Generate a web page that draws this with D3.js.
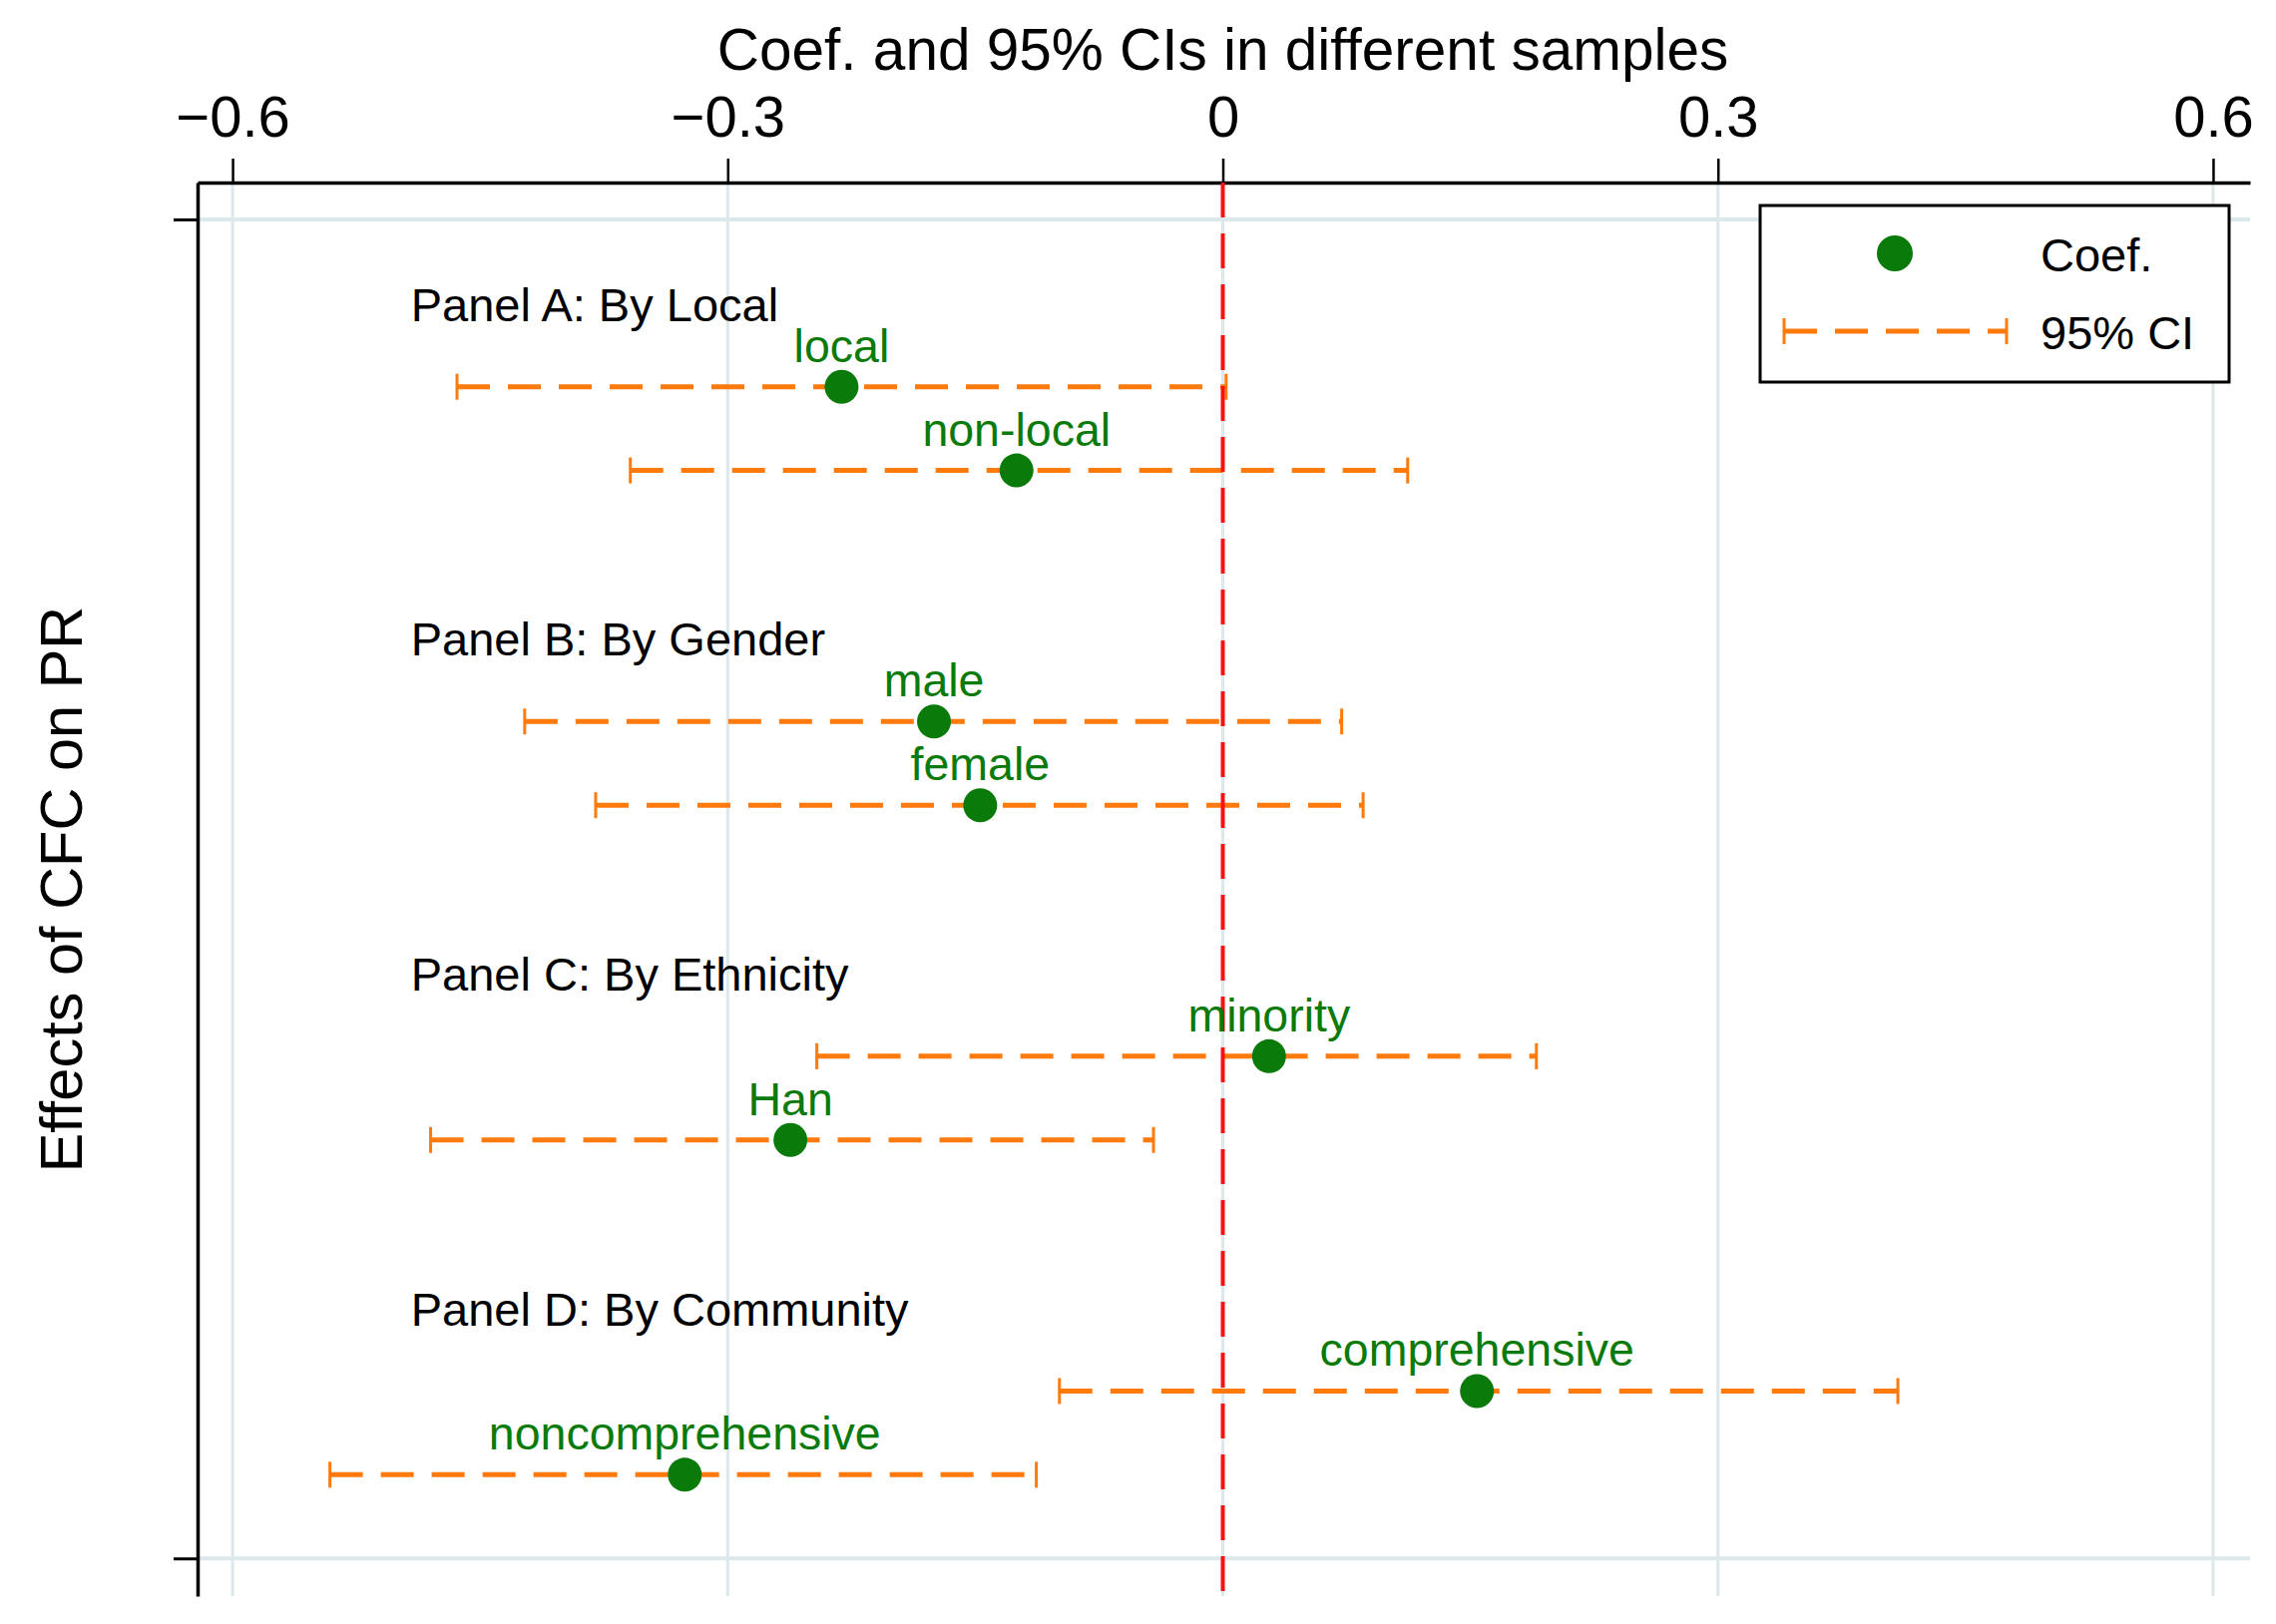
<html>
<head>
  <meta charset="utf-8">
  <title>Coef. and 95% CIs in different samples</title>
  <style>
    body { margin: 0; background: #fff; }
    text { font-family: "Liberation Sans", Arial, sans-serif; }
  </style>
  <script src="https://d3js.org/d3.v7.min.js"></script>
</head>
<body>
  <svg id="chart" width="2281" height="1628" viewBox="0 0 2281 1628"></svg>
  <script>
    // values
    var panels = ["Panel A: By Local", "Panel B: By Gender", "Panel C: By Ethnicity", "Panel D: By Community"];
    var samples = ["local", "non-local", "male", "female", "minority", "Han", "comprehensive", "noncomprehensive"];
    var coef = [-0.231, -0.125, -0.175, -0.147, 0.028, -0.262, 0.154, -0.326];
    var ciLow = [-0.464, -0.359, -0.423, -0.380, -0.246, -0.480, -0.099, -0.541];
    var ciHigh = [0.002, 0.112, 0.072, 0.085, 0.190, -0.042, 0.409, -0.113];
    var xTicks = [-0.6, -0.3, 0, 0.3, 0.6];
    var yTicks = [-1, 15];
    var legendLabels = ["Coef.", "95% CI"];

    var green = "#0a7a0a", orange = "#ff7a0c", grid = "#dbe8ec";

    // each panel: header row + two sample rows + a blank row
    var rows = samples.map(function (s, i) {
      return { name: s, coef: coef[i], lo: ciLow[i], hi: ciHigh[i], row: Math.floor(i / 2) * 4 + (i % 2) + 1 };
    });

    var svg = d3.select("#chart");

    var x = d3.scaleLinear().domain([-0.6212, 0.6224]).range([198, 2255]);
    var y = d3.scaleLinear().domain([-1.44, 15.45]).range([183, 1600]);

    // grid
    svg.append("g").selectAll("line")
      .data(xTicks).enter().append("line")
      .attr("x1", d => x(d)).attr("x2", d => x(d))
      .attr("y1", y.range()[0]).attr("y2", y.range()[1])
      .attr("stroke", grid).attr("stroke-width", 3);

    svg.append("g").selectAll("line")
      .data(yTicks).enter().append("line")
      .attr("x1", x.range()[0]).attr("x2", x.range()[1])
      .attr("y1", d => y(d)).attr("y2", d => y(d))
      .attr("stroke", grid).attr("stroke-width", 4);

    // axes
    var xAxis = svg.append("g")
      .attr("transform", "translate(0," + y.range()[0] + ")")
      .call(d3.axisTop(x).tickValues(xTicks).tickSize(24).tickSizeOuter(0).tickPadding(22)
        .tickFormat(d => d === 0 ? "0" : d3.format(".1f")(d)));
    xAxis.select(".domain").attr("stroke-width", 3.5);
    xAxis.selectAll(".tick line").attr("stroke-width", 2.5);
    xAxis.selectAll(".tick text").attr("font-size", 58).attr("fill", "#000")
      .style("font-family", "'Liberation Sans', Arial, sans-serif");

    var yAxis = svg.append("g")
      .attr("transform", "translate(" + x.range()[0] + ",0)")
      .call(d3.axisLeft(y).tickValues(yTicks).tickSize(24).tickSizeOuter(0).tickFormat(""));
    yAxis.select(".domain").attr("stroke-width", 3.5);
    yAxis.selectAll(".tick line").attr("stroke-width", 3);

    // titles
    svg.append("text")
      .attr("x", x(0)).attr("y", 70)
      .attr("text-anchor", "middle").attr("font-size", 58.5)
      .text("Coef. and 95% CIs in different samples");

    svg.append("text")
      .attr("transform", "translate(82," + (y.range()[0] + y.range()[1]) / 2 + ") rotate(-90)")
      .attr("text-anchor", "middle").attr("font-size", 59.5)
      .text("Effects of CFC on PR");

    // panel headers
    svg.append("g").selectAll("text")
      .data(panels).enter().append("text")
      .attr("x", x(-0.492)).attr("y", (d, i) => y(i * 4) + 18)
      .attr("font-size", 47).attr("fill", "#000")
      .text(d => d);

    // confidence intervals
    var ci = svg.append("g");
    ci.selectAll("line.ci")
      .data(rows).enter().append("line")
      .attr("class", "ci")
      .attr("x1", d => x(d.lo)).attr("x2", d => x(d.hi))
      .attr("y1", d => y(d.row)).attr("y2", d => y(d.row))
      .attr("stroke", orange).attr("stroke-width", 5)
      .attr("stroke-dasharray", "33,18");
    ci.selectAll("line.capl")
      .data(rows).enter().append("line")
      .attr("class", "capl")
      .attr("x1", d => x(d.lo)).attr("x2", d => x(d.lo))
      .attr("y1", d => y(d.row) - 13).attr("y2", d => y(d.row) + 13)
      .attr("stroke", orange).attr("stroke-width", 3);
    ci.selectAll("line.capr")
      .data(rows).enter().append("line")
      .attr("class", "capr")
      .attr("x1", d => x(d.hi)).attr("x2", d => x(d.hi))
      .attr("y1", d => y(d.row) - 13).attr("y2", d => y(d.row) + 13)
      .attr("stroke", orange).attr("stroke-width", 3);

    // zero line
    svg.append("line")
      .attr("x1", x(0)).attr("x2", x(0))
      .attr("y1", y.range()[0]).attr("y2", y.range()[1])
      .attr("stroke", "#ff1010").attr("stroke-width", 4)
      .attr("stroke-dasharray", "35,16");

    // points and labels
    svg.append("g").selectAll("circle")
      .data(rows).enter().append("circle")
      .attr("cx", d => x(d.coef)).attr("cy", d => y(d.row))
      .attr("r", 17).attr("fill", green);

    svg.append("g").selectAll("text")
      .data(rows).enter().append("text")
      .attr("x", d => x(d.coef)).attr("y", d => y(d.row) - 25)
      .attr("text-anchor", "middle").attr("font-size", 46.5).attr("fill", green)
      .text(d => d.name);

    // legend
    var lg = svg.append("g");
    lg.append("rect")
      .attr("x", 1764).attr("y", 206).attr("width", 470).attr("height", 177)
      .attr("fill", "#fff").attr("stroke", "#000").attr("stroke-width", 3);
    lg.append("circle").attr("cx", 1899).attr("cy", 254).attr("r", 18).attr("fill", green);
    lg.append("line").attr("x1", 1788).attr("x2", 2011).attr("y1", 332).attr("y2", 332)
      .attr("stroke", orange).attr("stroke-width", 5).attr("stroke-dasharray", "33,18");
    [1788, 2011].forEach(function (cx) {
      lg.append("line").attr("x1", cx).attr("x2", cx).attr("y1", 319).attr("y2", 345)
        .attr("stroke", orange).attr("stroke-width", 3);
    });
    lg.selectAll("text.lab")
      .data(legendLabels).enter().append("text")
      .attr("class", "lab")
      .attr("x", 2045).attr("y", (d, i) => i === 0 ? 272 : 350)
      .attr("font-size", 47).attr("fill", "#000")
      .text(d => d);
  </script>
</body>
</html>
